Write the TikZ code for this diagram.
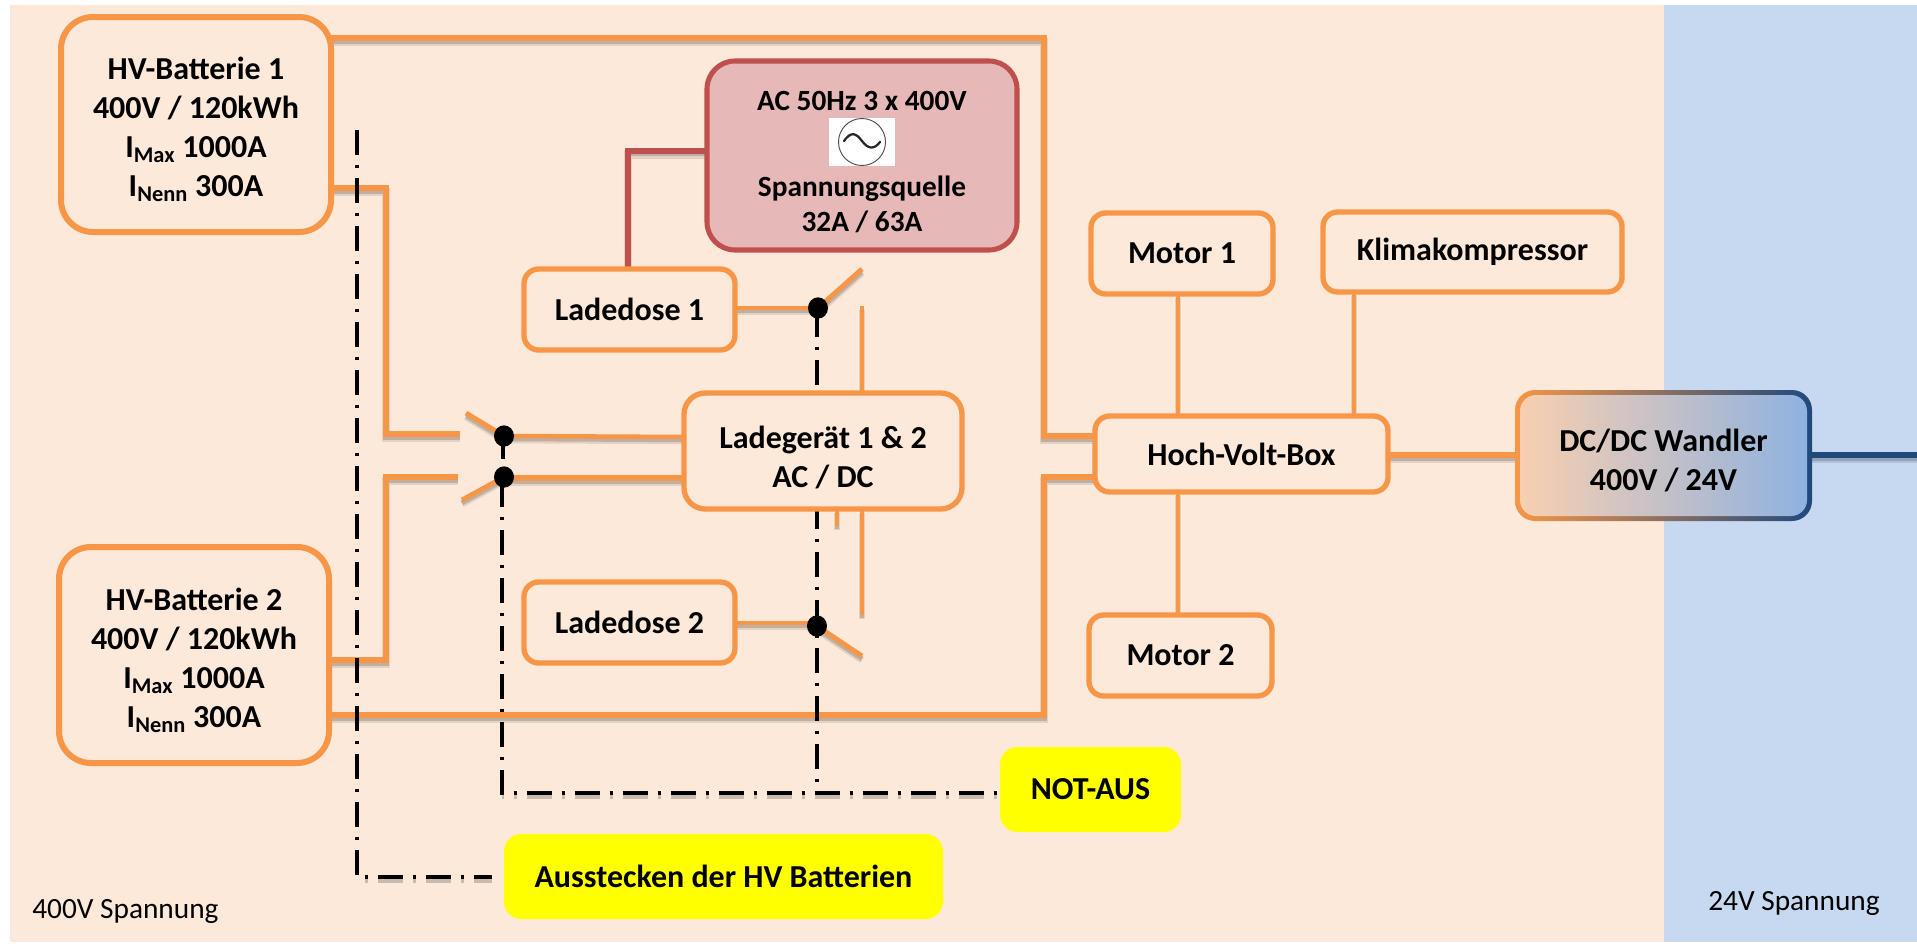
\documentclass[tikz,border=0pt]{standalone}
\usepackage{fontspec}
\setmainfont{Carlito}
\usetikzlibrary{calc,shapes.geometric}
\definecolor{peach}{HTML}{FDE9D9}
\definecolor{skyb}{HTML}{C6D9F1}
\definecolor{orangeline}{HTML}{F79646}
\definecolor{redline}{HTML}{C0504D}
\definecolor{redfill}{HTML}{E6B8B7}
\definecolor{blueline}{HTML}{1F497D}
\definecolor{dcfillL}{RGB}{248,207,176}
\definecolor{dcfillM}{RGB}{176,196,222}
\definecolor{dcfillR}{RGB}{143,178,224}
\definecolor{pureyellow}{RGB}{255,255,0}
\newcommand{\Sb}[1]{\textsubscript{#1}}
\tikzset{
  x=0.75pt,y=-0.75pt,
  softshadow/.style={preaction={draw=black,draw opacity=.10,line width=#1+1.5pt,transform canvas={yshift=-3pt},line cap=butt},
                     preaction={draw=black,draw opacity=.16,line width=#1,transform canvas={yshift=-2.2pt},line cap=butt}},
  wire/.style={draw=orangeline,line width=4.5pt,softshadow=4.5pt,line join=miter},
  thinwire/.style={draw=orangeline,line width=3.4pt,softshadow=3.4pt},
  redwire/.style={draw=redline,line width=3.8pt,softshadow=3.8pt},
  bluewire/.style={draw=blueline,line width=4pt,softshadow=4pt},
  ctrl/.style={draw=black,line width=2.5pt,dash pattern=on 18.5pt off 7.5pt on 2.3pt off 7.7pt},
  ctrlshade/.style={draw=black,draw opacity=.2,line width=2.8pt,dash pattern=on 18.5pt off 7.5pt on 2.3pt off 7.7pt,transform canvas={yshift=-3pt}},
  box/.style={draw=orangeline,fill=peach,line width=4pt,rounded corners=11pt,inner sep=0pt,align=center,font=\bfseries\fontsize{24}{29.3}\selectfont},
  battbox/.style={box,line width=4.5pt,rounded corners=24pt,font=\bfseries\fontsize{24}{29.3}\selectfont},
  redbox/.style={draw=redline,fill=redfill,line width=3.8pt,rounded corners=21pt,inner sep=0pt,align=center,font=\bfseries\fontsize{22}{26.3}\selectfont},
  yellowbox/.style={fill=pureyellow,rounded corners=13pt,inner sep=0pt,align=center,font=\bfseries\fontsize{24}{29}\selectfont},
  note/.style={inner sep=0pt,font=\fontsize{22}{26}\selectfont},
  dot/.style={ellipse,fill=black,inner sep=0pt,minimum width=15pt,minimum height=16pt},
  arm/.style={draw=orangeline,line width=3.6pt,softshadow=3.6pt},
}
\begin{document}
\begin{tikzpicture}
\useasboundingbox (0,0) rectangle (1917,943);
\fill[white] (0,0) rectangle (1917,943);
\fill[peach] (10,5) rectangle (1664,942);
\fill[skyb] (1664,5) rectangle (1917,942);

\coordinate (jt) at (1044,38);
\coordinate (jb) at (1044,715);
\coordinate (j1a) at (386,188);
\coordinate (j1b) at (386,434);
\coordinate (j2a) at (386,660);
\coordinate (j2b) at (386,477);
\coordinate (swl1) at (460,434);
\coordinate (swl2) at (458,477);
\coordinate (arm1) at (466,413);
\coordinate (arm2) at (462,500);
\coordinate (arm3) at (862,269);
\coordinate (arm4) at (862,656);
\coordinate (ct1) at (862,306);
\coordinate (ct2) at (862,615);
\coordinate (stub) at (837,526);
\coordinate (red1) at (628,151);
\coordinate (bat) at (357,130);
\coordinate (batb) at (357,877);
\coordinate (ausend) at (492,877);
\coordinate (nb) at (502,793);
\coordinate (nc) at (817,793);
\coordinate (nd) at (1004,793);
\coordinate (rend) at (1917,455);

% wires under the boxes
\draw[wire] (331,38) -- (jt) -- (1044,436) -- (1095,436);
\draw[wire] (330,715) -- (jb) -- (1044,477) -- (1095,477);
\draw[wire] (331,188) -- (j1a) -- (j1b) -- (swl1);
\draw[wire] (330,660) -- (j2a) -- (j2b) -- (swl2);
\draw[thinwire] (504,436) -- (684,437);
\draw[wire] (504,478) -- (684,478);
\draw[thinwire] (735,308) -- (818,308);
\draw[thinwire] (735,623) -- (817,623);
\draw[arm] (504,436) -- (arm1);
\draw[arm] (504,477) -- (arm2);
\draw[arm] (818,308) -- (arm3);
\draw[arm] (817,626) -- (arm4);
\draw[thinwire] (ct1) -- (862,393);
\draw[thinwire] (862,509) -- (ct2);
\draw[thinwire] (837,509) -- (stub);
\draw[redwire] (707,151) -- (red1) -- (628,269);
\draw[thinwire] (1178,294) -- (1178,416);
\draw[thinwire] (1354,292) -- (1354,416);
\draw[thinwire] (1178,492) -- (1178,615);
\draw[wire] (1388,455) -- (1517,455);
\draw[bluewire] (1810,455) -- (rend);

% stop lines
\draw[ctrlshade,dash phase=20.25pt] (batb) -- (ausend);
\draw[ctrlshade,dash phase=17.25pt] (nb) -- (nd);
\draw[ctrl] (bat) -- (batb) -- (ausend);
\draw[ctrl,dash phase=32.25pt] (502,477) -- (nb) -- (nd);
\draw[ctrl,dash phase=33pt] (817,308) -- (nc);
\draw[draw=black,line width=2.6pt] (503,436) -- (503,459);

% boxes
\node[battbox,minimum width=270*0.75pt,minimum height=215*0.75pt] (hv1) at (196,124.5) {\rule{0pt}{24.5pt}HV-Batterie 1\\400V / 120kWh\\I\Sb{Max} 1000A\\I\Sb{Nenn} 300A};
\node[battbox,minimum width=270*0.75pt,minimum height=216*0.75pt] (hv2) at (194,655) {\rule{0pt}{24.5pt}HV-Batterie 2\\400V / 120kWh\\I\Sb{Max} 1000A\\I\Sb{Nenn} 300A};
\node[box,minimum width=211*0.75pt,minimum height=81*0.75pt] (lade1) at (629.5,309.5) {Ladedose 1};
\node[box,minimum width=211*0.75pt,minimum height=81*0.75pt] (lade2) at (629.5,622.5) {Ladedose 2};
\node[box,minimum width=278*0.75pt,minimum height=116*0.75pt,rounded corners=16pt] (ladeg) at (823,451) {\rule{0pt}{26pt}Ladegerät 1 \& 2\\AC / DC};
\node[redbox,minimum width=310*0.75pt,minimum height=189*0.75pt] (red) at (862,155.5) {\rule{0pt}{24pt}AC 50Hz 3 x 400V\\[38pt]Spannungsquelle\\32A / 63A};
\node[inner sep=0pt,fill=white,minimum width=66*0.75pt,minimum height=48*0.75pt] (acsym) at (862,142) {};
\node[draw=black!70,circle,line width=.7pt,inner sep=0pt,minimum width=47*0.75pt,fill=white] (accircle) at (acsym) {};
\draw[line width=1.7pt,line cap=round,black!85] (844,141) .. controls (851,131) and (856,133) .. (862,141) .. controls (868,149) and (874,150) .. (880,142);
\node[box,minimum width=182*0.75pt,minimum height=81*0.75pt] (m1) at (1182,253.5) {Motor 1};
\node[box,minimum width=299*0.75pt,minimum height=80*0.75pt] (klima) at (1472.5,252) {\raisebox{3pt}{Klimakompressor}};
\node[box,minimum width=293*0.75pt,minimum height=76*0.75pt] (hvb) at (1241.5,454) {Hoch-Volt-Box};
\node[box,minimum width=183*0.75pt,minimum height=81*0.75pt] (m2) at (1180.5,655.5) {Motor 2};
\node[rounded corners=15pt,inner sep=0pt,minimum width=297*0.75pt,minimum height=131*0.75pt,left color=orangeline,middle color=dcfillM,right color=blueline] (dco) at (1663.5,455.5) {};
\node[rounded corners=12pt,inner sep=0pt,minimum width=287*0.75pt,minimum height=121*0.75pt,left color=dcfillL,middle color=dcfillM,right color=dcfillR,align=center,font=\bfseries\fontsize{24}{29.3}\selectfont] (dc) at (1663.5,455.5) {\rule{0pt}{25pt}DC/DC Wandler\\400V / 24V};
\node[yellowbox,minimum width=181*0.75pt,minimum height=85*0.75pt] (notaus) at (1090.5,789.5) {NOT-AUS};
\node[yellowbox,minimum width=439*0.75pt,minimum height=85*0.75pt] (aus) at (723.5,876.5) {Ausstecken der HV Batterien};
\node[note,anchor=west] (t400) at (32,911) {400V Spannung};
\node[note,anchor=west] (t24) at (1708,903) {24V Spannung};

% switch contacts
\node[dot] (d1) at (504,436) {};
\node[dot] (d2) at (504,477) {};
\node[dot] (d3) at (818,308) {};
\node[dot] (d4) at (817,626) {};
\end{tikzpicture}
\end{document}
